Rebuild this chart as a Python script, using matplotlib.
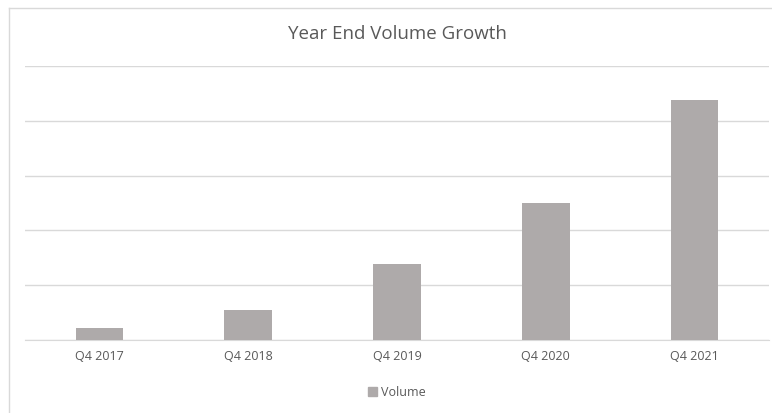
import matplotlib.pyplot as plt
from matplotlib.patches import Patch
from matplotlib.lines import Line2D

# data (units = one gridline step)
quarters = ['Q4 2017', 'Q4 2018', 'Q4 2019', 'Q4 2020', 'Q4 2021']
volume = [0.22, 0.54, 1.39, 2.50, 4.38]

bar_color = '#aeaaaa'
grid_color = '#d9d9d9'
text_color = '#595959'

plt.rcParams['font.family'] = ['Open Sans', 'DejaVu Sans']

fig = plt.figure(figsize=(7.72, 4.13), dpi=100)
ax = fig.add_axes([0.0324, 0.1768, 0.9636, 0.6632])

x = range(len(quarters))
ax.bar(x, volume, width=0.32, color=bar_color, zorder=3)

ax.set_xlim(-0.5, len(quarters) - 0.5)
ax.set_ylim(0, 5)
ax.set_yticks(range(6))
ax.set_yticklabels([])
ax.yaxis.grid(True, color=grid_color, linewidth=1, zorder=0)
ax.tick_params(axis='y', length=0)
ax.tick_params(axis='x', length=0, pad=7, labelsize=9, labelcolor=text_color)
ax.set_xticks(list(x))
ax.set_xticklabels(quarters)
for side in ['top', 'right', 'left']:
    ax.spines[side].set_visible(False)
ax.spines['bottom'].set_color(grid_color)

fig.text(0.515, 0.917, 'Year End Volume Growth', ha='center', va='center',
         fontsize=13.5, color=text_color)

ax.legend(handles=[Patch(color=bar_color, label='Volume')],
          loc='center', bbox_to_anchor=(0.5, -0.19), frameon=False,
          fontsize=9, labelcolor=text_color, handlelength=0.7,
          handleheight=0.7, handletextpad=0.3)

# chart border (left and top edges visible)
fig.add_artist(Line2D([0.012, 0.012], [0, 0.98], color=grid_color, lw=1,
                      transform=fig.transFigure))
fig.add_artist(Line2D([0.012, 1], [0.98, 0.98], color=grid_color, lw=1,
                      transform=fig.transFigure))

fig.savefig('out.png', dpi=100)
